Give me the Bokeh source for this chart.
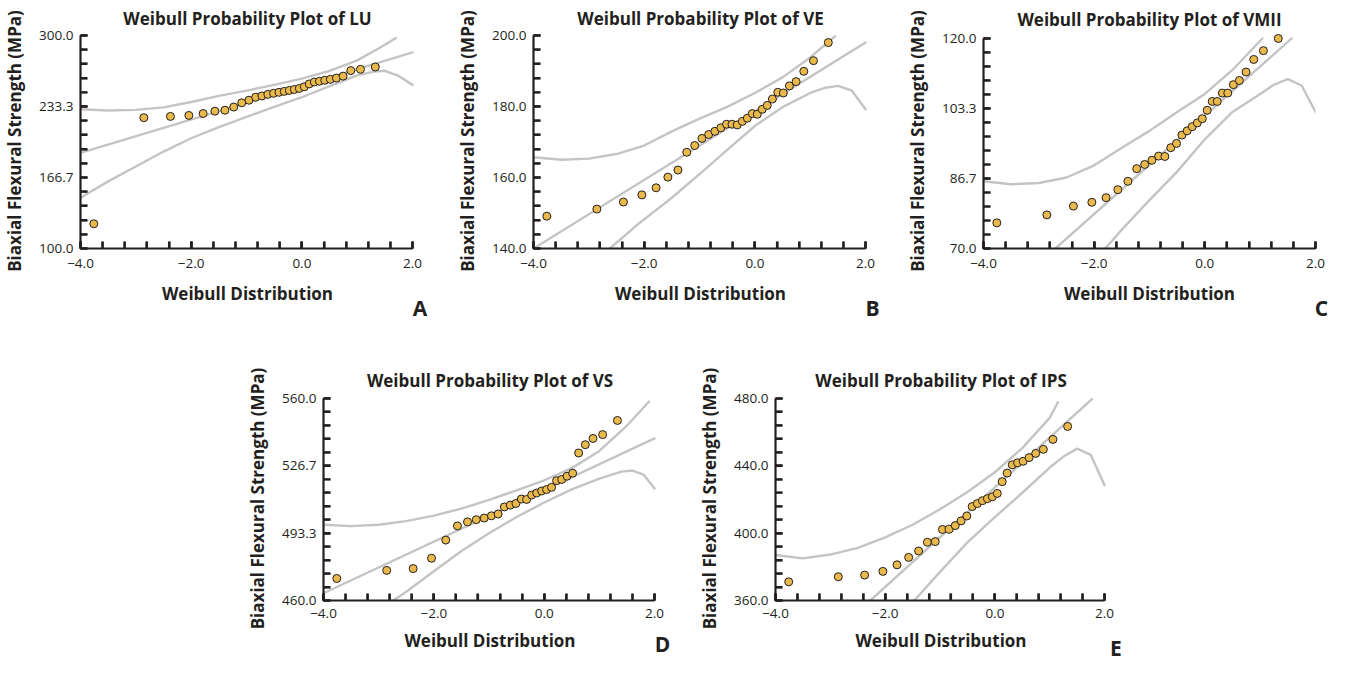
from bokeh.plotting import figure
from bokeh.models import Range1d, FixedTicker, Label, Spacer
from bokeh.layouts import row, column
from bokeh.embed import file_html
from bokeh.resources import INLINE

FONT = "Open Sans"
INK = "#231f20"
BAND = "#c4c4c4"
DOT = "#e9b94c"
NAN = float("nan")

# Weibull plotting positions (x) shared by all five panels (30 specimens)
weibull_x = [-3.759, -2.855, -2.375, -2.042, -1.784, -1.572, -1.390, -1.231, -1.087, -0.956,
             -0.835, -0.722, -0.615, -0.512, -0.414, -0.319, -0.227, -0.136, -0.046, 0.043,
             0.133, 0.224, 0.317, 0.414, 0.515, 0.624, 0.745, 0.884, 1.059, 1.327]

# Biaxial flexural strength (MPa), ordered
lu_strength = [123.2, 222.8, 224.0, 224.9, 226.7, 228.9, 229.8, 232.8, 236.8, 239.2,
               242.0, 243.2, 244.7, 245.7, 246.6, 247.5, 248.4, 249.3, 250.3, 251.8,
               254.5, 256.3, 257.0, 257.9, 258.8, 260.0, 261.8, 267.0, 268.2, 270.4]
ve_strength = [149.1, 151.1, 153.1, 155.1, 157.1, 160.1, 162.1, 167.1, 169.0, 171.0,
               172.1, 173.0, 174.0, 175.0, 175.0, 174.8, 175.8, 176.7, 178.0, 177.8,
               179.2, 180.3, 182.1, 184.0, 183.8, 185.8, 187.0, 189.9, 192.9, 198.0]
vmii_strength = [76.1, 78.0, 80.1, 81.0, 82.1, 84.0, 86.0, 89.0, 90.0, 91.0,
                 92.0, 91.9, 94.0, 95.0, 97.0, 98.0, 99.0, 99.9, 100.9, 102.9,
                 105.0, 105.0, 107.0, 107.0, 109.0, 110.0, 112.0, 115.0, 117.1, 120.0]
vs_strength = [470.9, 474.9, 475.8, 480.9, 489.9, 496.9, 498.9, 500.0, 500.8, 501.9,
               502.8, 506.3, 507.2, 508.0, 510.2, 510.0, 512.2, 513.2, 514.2, 514.9,
               516.0, 519.3, 519.9, 521.5, 523.0, 533.0, 537.1, 540.2, 542.1, 549.1]
ips_strength = [371.1, 374.1, 375.1, 377.3, 381.2, 385.6, 389.4, 394.6, 395.0, 402.2,
                402.4, 404.5, 407.3, 410.2, 415.8, 417.6, 419.3, 420.5, 421.6, 423.6,
                430.6, 435.7, 440.6, 441.8, 442.7, 444.9, 447.4, 449.8, 455.7, 463.4]

# Fitted line and confidence bands
lu_mid_x = [-4.0, -1.87, 2.0]
lu_mid_y = [189.8, 223.1, 284.1]
lu_up_x = [-4.0, -3.5, -3.0, -2.5, -2.0, -1.5, -1.0, -0.5, 0.0, 0.5, 1.0, 1.4, 1.7]
lu_up_y = [230.7, 229.5, 230.1, 232.5, 237.5, 243.3, 248.2, 253.6, 259.5, 266.8, 276.6, 288.2, 297.6]
lu_lo_x = [-4.0, -3.5, -3.0, -2.5, -2.0, -1.5, -1.0, -0.5, 0.0, 0.5, 1.0, 1.3, 1.5, 1.75, 2.0]
lu_lo_y = [147.6, 163.0, 177.0, 191.0, 203.5, 214.0, 223.5, 233.0, 242.0, 252.5, 262.5, 266.0, 266.8, 262.0, 253.6]

ve_mid_x = [-4.0, 2.0]
ve_mid_y = [140.0, 198.0]
ve_up_x = [-4.0, -3.5, -3.0, -2.5, -2.0, -1.5, -1.0, -0.5, 0.0, 0.5, 1.0, 1.45]
ve_up_y = [165.7, 165.0, 165.3, 166.6, 169.0, 173.0, 176.6, 179.9, 183.8, 188.2, 193.8, 199.8]
ve_lo_x = [-2.62, -2.1, -1.5, -0.9, -0.5, 0.0, 0.5, 1.0, 1.25, 1.5, 1.75, 2.0]
ve_lo_y = [140.0, 147.0, 154.3, 162.3, 167.8, 174.5, 179.8, 183.8, 185.2, 185.8, 184.5, 179.2]

vmii_mid_x = [-2.70, 1.57]
vmii_mid_y = [70.0, 120.0]
vmii_up_x = [-4.0, -3.5, -3.0, -2.5, -2.0, -1.5, -1.0, -0.5, 0.0, 0.5, 1.04]
vmii_up_y = [86.0, 85.3, 85.6, 86.9, 89.8, 94.0, 98.0, 102.5, 106.8, 112.5, 120.0]
vmii_lo_x = [-1.80, -1.5, -1.0, -0.5, 0.0, 0.5, 1.0, 1.25, 1.5, 1.75, 2.0]
vmii_lo_y = [70.0, 74.5, 81.5, 88.3, 96.0, 102.5, 106.8, 109.0, 110.3, 108.8, 102.5]

vs_mid_x = [-4.0, 2.0]
vs_mid_y = [463.6, 540.2]
vs_up_x = [-4.0, -3.5, -3.0, -2.5, -2.0, -1.5, -1.0, -0.5, 0.0, 0.5, 1.0, 1.5, 1.9]
vs_up_y = [497.5, 496.8, 497.5, 499.3, 502.0, 505.5, 509.8, 514.5, 519.5, 525.5, 534.0, 546.5, 558.5]
vs_lo_x = [-2.735, -2.5, -2.0, -1.5, -1.0, -0.5, 0.0, 0.5, 1.0, 1.4, 1.6, 1.8, 2.0]
vs_lo_y = [460.0, 464.3, 474.5, 484.5, 493.3, 501.3, 508.5, 515.0, 520.3, 523.8, 524.3, 522.3, 515.4]

ips_mid_x = [-2.27, 1.77]
ips_mid_y = [360.0, 479.6]
ips_up_x = [-4.0, -3.5, -3.0, -2.5, -2.0, -1.5, -1.0, -0.5, 0.0, 0.5, 1.0, 1.15]
ips_up_y = [387.0, 385.0, 387.3, 391.3, 397.5, 405.0, 414.2, 424.5, 436.2, 450.5, 468.5, 477.8]
ips_lo_x = [-1.47, -1.0, -0.5, 0.0, 0.5, 1.0, 1.25, 1.5, 1.75, 2.0]
ips_lo_y = [360.0, 377.0, 394.5, 409.5, 424.0, 439.0, 445.5, 450.2, 446.5, 428.5]

# Tick labels
x_tick_values = [-4.0, -2.0, 0.0, 2.0]
x_tick_labels = ["\u22124.0", "\u22122.0", "0.0", "2.0"]
lu_ticks = ["100.0", "166.7", "233.3", "300.0"]
ve_ticks = ["140.0", "160.0", "180.0", "200.0"]
vmii_ticks = ["70.0", "86.7", "103.3", "120.0"]
vs_ticks = ["460.0", "493.3", "526.7", "560.0"]
ips_ticks = ["360.0", "400.0", "440.0", "480.0"]

names = ["LU", "VE", "VMII", "VS", "IPS"]
letters = ["A", "B", "C", "D", "E"]

TICK_PX = 7


def panel(name, values, y_lo, y_hi, y_labels, curves, letter, width, height,
          left, top, fw, fh, ext_r, ext_t, title_standoff, x_standoffs, lx, ly):
    x_end = 2.0 + 6.0 * ext_r / fw
    y_end = y_hi + (y_hi - y_lo) * ext_t / fh
    top_b = top - ext_t
    right_b = width - left - fw - ext_r
    bottom_b = height - top - fh
    p = figure(width=width, height=height, output_backend="svg", toolbar_location=None,
               x_range=Range1d(-4.0, x_end), y_range=Range1d(y_lo, y_end),
               min_border_left=left, min_border_right=int(round(right_b)),
               min_border_top=int(round(top_b)), min_border_bottom=int(round(bottom_b)),
               title="Weibull Probability Plot of " + name)
    p.outline_line_color = None
    p.grid.visible = False
    p.background_fill_color = None
    p.border_fill_color = None

    p.title.text_font = FONT
    p.title.text_font_size = "17px"
    p.title.text_font_style = "bold"
    p.title.text_color = INK
    p.title.align = "center"
    p.title.standoff = title_standoff

    x_minor = [-4.0 + 0.4 * k for k in range(16)]
    step = (y_hi - y_lo) / 3.0
    y_vals = [y_lo + step * k for k in range(4)]
    y_minor = [y_lo + step / 5.0 * k for k in range(16)]

    xa = p.xaxis[0]
    xa.ticker = FixedTicker(ticks=x_tick_values, minor_ticks=x_minor)
    xa.major_label_overrides = dict(zip(x_tick_values, x_tick_labels))
    xa.axis_label = "Weibull Distribution"
    xa.major_label_standoff = x_standoffs[0]
    xa.axis_label_standoff = x_standoffs[1]
    xa.bounds = (-4.0, 2.0)

    ya = p.yaxis[0]
    ya.ticker = FixedTicker(ticks=y_vals, minor_ticks=y_minor)
    ya.major_label_overrides = dict(zip(y_vals, y_labels))
    ya.axis_label = "Biaxial Flexural Strength (MPa)"
    ya.major_label_standoff = 7
    ya.axis_label_standoff = 10
    ya.bounds = (y_lo, y_hi)

    for ax in (xa, ya):
        ax.axis_line_width = 2.2
        ax.axis_line_color = INK
        ax.major_tick_in = TICK_PX
        ax.major_tick_out = 0
        ax.minor_tick_in = TICK_PX
        ax.minor_tick_out = 0
        ax.major_tick_line_width = 2.2
        ax.minor_tick_line_width = 2.2
        ax.major_tick_line_color = INK
        ax.minor_tick_line_color = INK
        ax.major_label_text_font = FONT
        ax.major_label_text_font_size = "13.5px"
        ax.major_label_text_color = INK
        ax.axis_label_text_font = FONT
        ax.axis_label_text_font_size = "17px"
        ax.axis_label_text_font_style = "bold"
        ax.axis_label_text_color = INK

    for cx, cy in curves:
        p.line(cx, cy, line_color=BAND, line_width=2.4, line_cap="round", line_join="round")

    p.scatter(weibull_x, values, marker="circle", size=8, fill_color=DOT,
              line_color=INK, line_width=1)

    # inward tick marks (7 px long) drawn on top, from the axis lines
    dy = TICK_PX * (y_end - y_lo) / (fh + ext_t)
    dx = TICK_PX * (x_end + 4.0) / (fw + ext_r)
    tick_kw = dict(line_color=INK, line_width=2.2, level="overlay")
    p.multi_line(xs=[[v, v] for v in x_minor], ys=[[y_lo, y_lo + dy] for v in x_minor], **tick_kw)
    ty_x, ty_y = [], []
    for v in y_minor:
        ty_x += [-4.0, -4.0 + dx, NAN]
        ty_y += [v, v, NAN]
    p.line(ty_x, ty_y, **tick_kw)

    p.add_layout(Label(x=lx, y=ly, x_units="screen", y_units="screen", text=letter,
                       text_font=FONT, text_font_size="21px", text_font_style="bold",
                       text_color=INK, text_align="center", text_baseline="alphabetic"),
                 "right")
    return p


pA = panel(names[0], lu_strength, 100.0, 300.0, lu_ticks,
           [(lu_up_x, lu_up_y), (lu_mid_x, lu_mid_y), (lu_lo_x, lu_lo_y)], letters[0],
           453, 345, 71, 30, 341, 218, 2, 2, 8, (10, 11), 5.5, -59)
pB = panel(names[1], ve_strength, 140.0, 200.0, ve_ticks,
           [(ve_up_x, ve_up_y), (ve_mid_x, ve_mid_y), (ve_lo_x, ve_lo_y)], letters[1],
           450, 345, 71, 30, 341, 218, 2, 2, 8, (10, 11), 5, -59)
pC = panel(names[2], vmii_strength, 70.0, 120.0, vmii_ticks,
           [(vmii_up_x, vmii_up_y), (vmii_mid_x, vmii_mid_y), (vmii_lo_x, vmii_lo_y)], letters[2],
           427, 345, 71, 36, 341, 212, 0, 5, 5, (10, 11), 6, -59)
pD = panel(names[3], vs_strength, 460.0, 560.0, vs_ticks,
           [(vs_up_x, vs_up_y), (vs_mid_x, vs_mid_y), (vs_lo_x, vs_lo_y)], letters[3],
           452, 314, 71, 48, 340, 211, 2, 2, 9, (8, 8), 6, -43)
pE = panel(names[4], ips_strength, 360.0, 480.0, ips_ticks,
           [(ips_up_x, ips_up_y), (ips_mid_x, ips_mid_y), (ips_lo_x, ips_lo_y)], letters[4],
           450, 314, 71, 53, 338, 202, 2, 2, 9, (8, 8), 9.5, -47)

layout = column(row(pA, pB, pC), row(Spacer(width=243, height=314), pD, pE))

open("out.html", "w").write(file_html(layout, INLINE))
